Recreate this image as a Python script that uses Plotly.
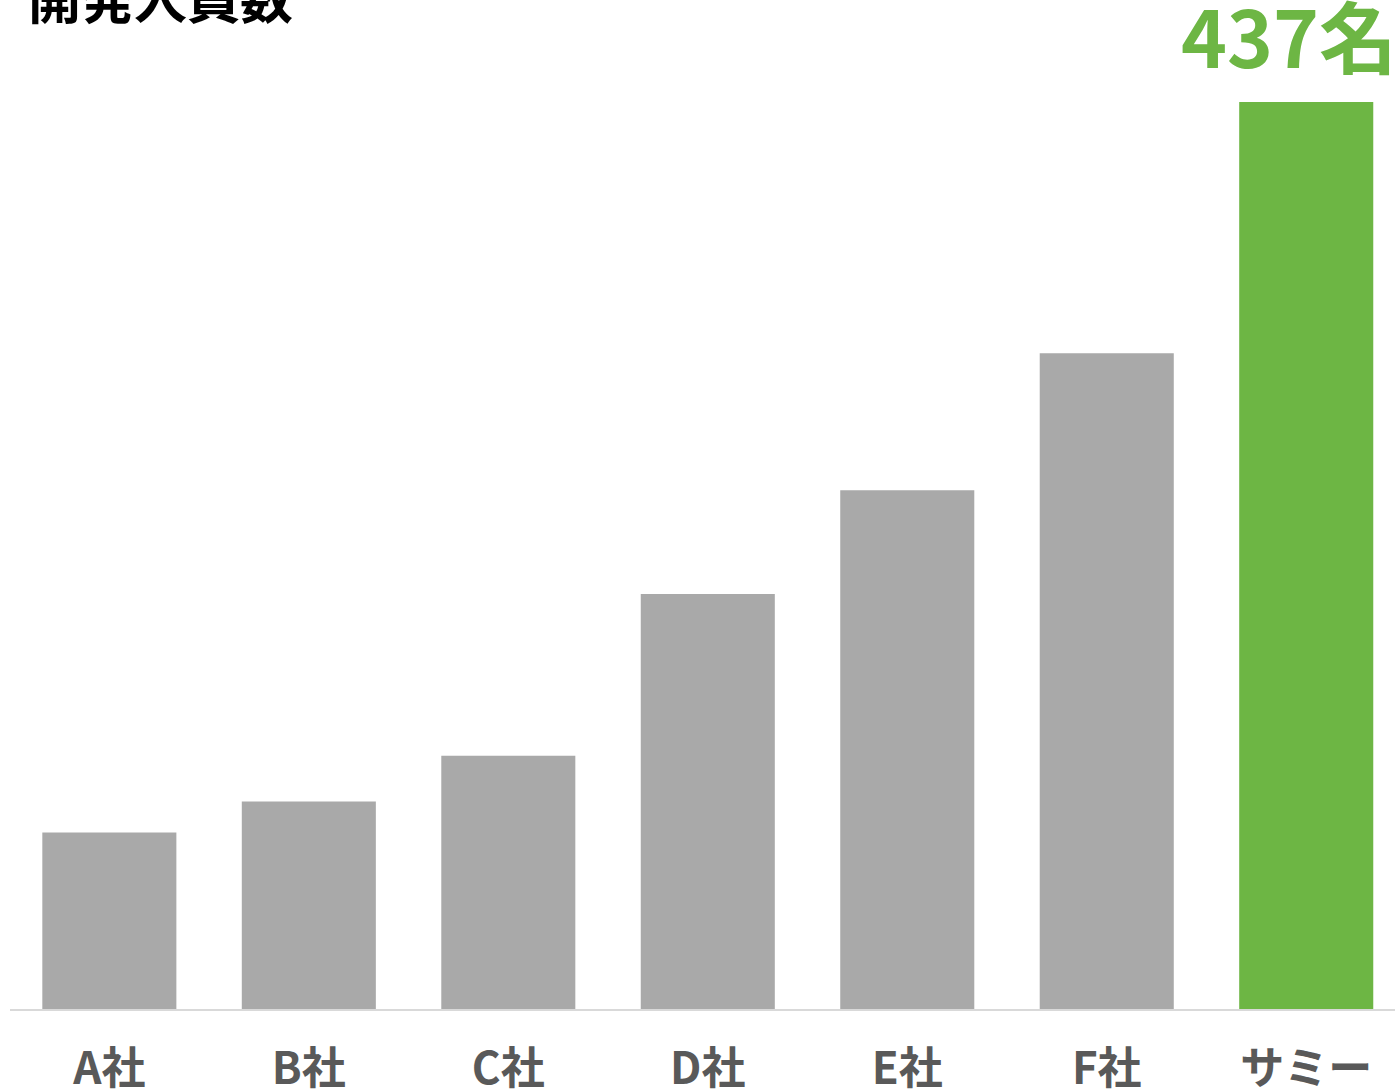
import plotly.graph_objects as go

categories = ["A社", "B社", "C社", "D社", "E社", "F社", "サミー"]
values = [85, 100, 122, 200, 250, 316, 437]
highlight_label = "437名"
title_text = "開発人員数"

gray = "#A9A9A9"
green = "#6DB644"
colors = [gray] * (len(values) - 1) + [green]

FONT = "Noto Sans CJK JP"

fig = go.Figure()
fig.add_trace(go.Bar(
    x=list(range(len(categories))),
    y=values,
    marker=dict(color=colors, line=dict(width=0)),
    hoverinfo="skip",
))

fig.add_annotation(
    x=1, y=values[-1], xref="paper", yref="y",
    text="<b>" + highlight_label + "</b>",
    showarrow=False, xanchor="right", yanchor="bottom", yshift=10, xshift=4,
    font=dict(family=FONT, size=78, color=green),
)

fig.add_annotation(
    x=0, y=1, xref="paper", yref="paper",
    text="<b>" + title_text + "</b>",
    showarrow=False, xanchor="left", yanchor="middle", xshift=16, yshift=4,
    font=dict(family=FONT, size=53, color="#000000"),
)

fig.update_layout(
    width=1395, height=1091,
    margin=dict(l=10, r=0, t=0, b=82),
    paper_bgcolor="white", plot_bgcolor="white",
    bargap=0.328,
    showlegend=False,
    font=dict(family=FONT),
)
fig.update_xaxes(
    range=[-0.498, 6.445],
    automargin=False,
    tickmode="array", tickvals=list(range(len(categories))),
    ticktext=["<b>" + c + "</b>" for c in categories],
    tickfont=dict(family=FONT, size=44, color="#595959"),
    ticklabelstandoff=20,
    showline=True, linecolor="#D9D9D9", linewidth=2,
    showgrid=False, zeroline=False, ticks="",
)
fig.update_yaxes(
    range=[0, 486.2], visible=False, showgrid=False, zeroline=False,
    automargin=False,
)

fig.write_html("out.html")
